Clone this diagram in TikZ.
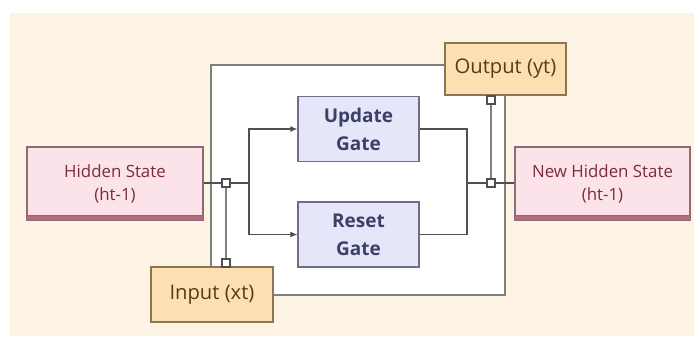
\documentclass[tikz,border=0pt]{standalone}
\usepackage{fontspec}
\setmainfont{Open Sans}
\usetikzlibrary{positioning, arrows.meta, calc}
\definecolor{creambg}{HTML}{FEF4E6}
\definecolor{framegray}{HTML}{808080}
\definecolor{wiregray}{HTML}{505050}
\definecolor{statefill}{HTML}{FCE3EA}
\definecolor{stateline}{HTML}{8E6A76}
\definecolor{statetext}{HTML}{7A2C3E}
\definecolor{statestrip}{HTML}{B46A7E}
\definecolor{gatefill}{HTML}{E6E6FA}
\definecolor{gateline}{HTML}{6E6E86}
\definecolor{gatetext}{HTML}{3A4066}
\definecolor{iofill}{HTML}{FCE0B2}
\definecolor{ioline}{HTML}{8A7656}
\definecolor{iotext}{HTML}{5A3C12}

\begin{document}
\begin{tikzpicture}[
    x=0.02cm, y=-0.02cm,
    statebox/.style={rectangle, draw=stateline, fill=statefill, thick, minimum width=3.52cm, minimum height=1.46cm, align=center, text=statetext, font=\fontsize{9.6}{13}\selectfont},
    gatebox/.style={rectangle, draw=gateline, fill=gatefill, thick, minimum width=2.42cm, minimum height=1.29cm, align=center, text=gatetext, font=\fontsize{10.8}{16}\selectfont\bfseries},
    iobox/.style={rectangle, draw=ioline, fill=iofill, thick, minimum width=2.42cm, align=center, text=iotext, font=\fontsize{11.5}{14}\selectfont},
    joint/.style={rectangle, draw=wiregray, fill=white, line width=0.6pt, minimum size=0.16cm, inner sep=0pt},
    wire/.style={draw=wiregray, line width=0.6pt},
    feed/.style={wire, -{Latex[length=4pt, width=3.5pt]}}
]
\useasboundingbox (0,0) rectangle (694,336);
% backdrop and frame
\fill[creambg] (10,13) rectangle (694,336);
\draw[framegray, fill=white, line width=0.9pt] (211,65) rectangle (505,295);

% boxes
\node[statebox] (hid) at (115,183.5) {Hidden State\\(ht-1)};
\node[statebox, minimum width=3.5cm] (newhid) at (602.5,183.5) {New Hidden State\\(ht-1)};
\node[gatebox] (upd) at (358.5,129) {Update\\Gate};
\node[gatebox, minimum height=1.3cm] (rst) at (358.5,234.5) {Reset\\Gate};
\node[iobox, minimum height=1.04cm] (outp) at (505.5,69) {Output (yt)};
\node[iobox, minimum width=2.44cm, minimum height=1.1cm] (inp) at (212,294.5) {Input (xt)};

% bottom strips
\foreach \b in {hid, newhid}
    \draw[stateline, fill=statestrip, line width=0.6pt] (\b.south west) rectangle ([yshift=0.11cm]\b.south east);

% joints
\node[joint] (j1) at (226,183) {};
\node[joint] (j2) at (226,263) {};
\node[joint] (j3) at (491,183) {};
\node[joint] (j4) at (491,100) {};
\coordinate (s1) at (249,183);
\coordinate (s2) at (467,183);

% wires
\draw[wire] (hid.east |- j1) -- (j1) -- (s1);
\draw[feed] (s1) |- (upd.west);
\draw[feed] (s1) |- (rst.west);
\draw[wire, framegray] (j1) -- (j2);
\draw[wire] (upd.east) -| (s2);
\draw[wire] (rst.east) -| (s2);
\draw[wire] (s2) -- (j3) -- (newhid.west |- j3);
\draw[wire, framegray] (j3) -- (j4);
\end{tikzpicture}
\end{document}
